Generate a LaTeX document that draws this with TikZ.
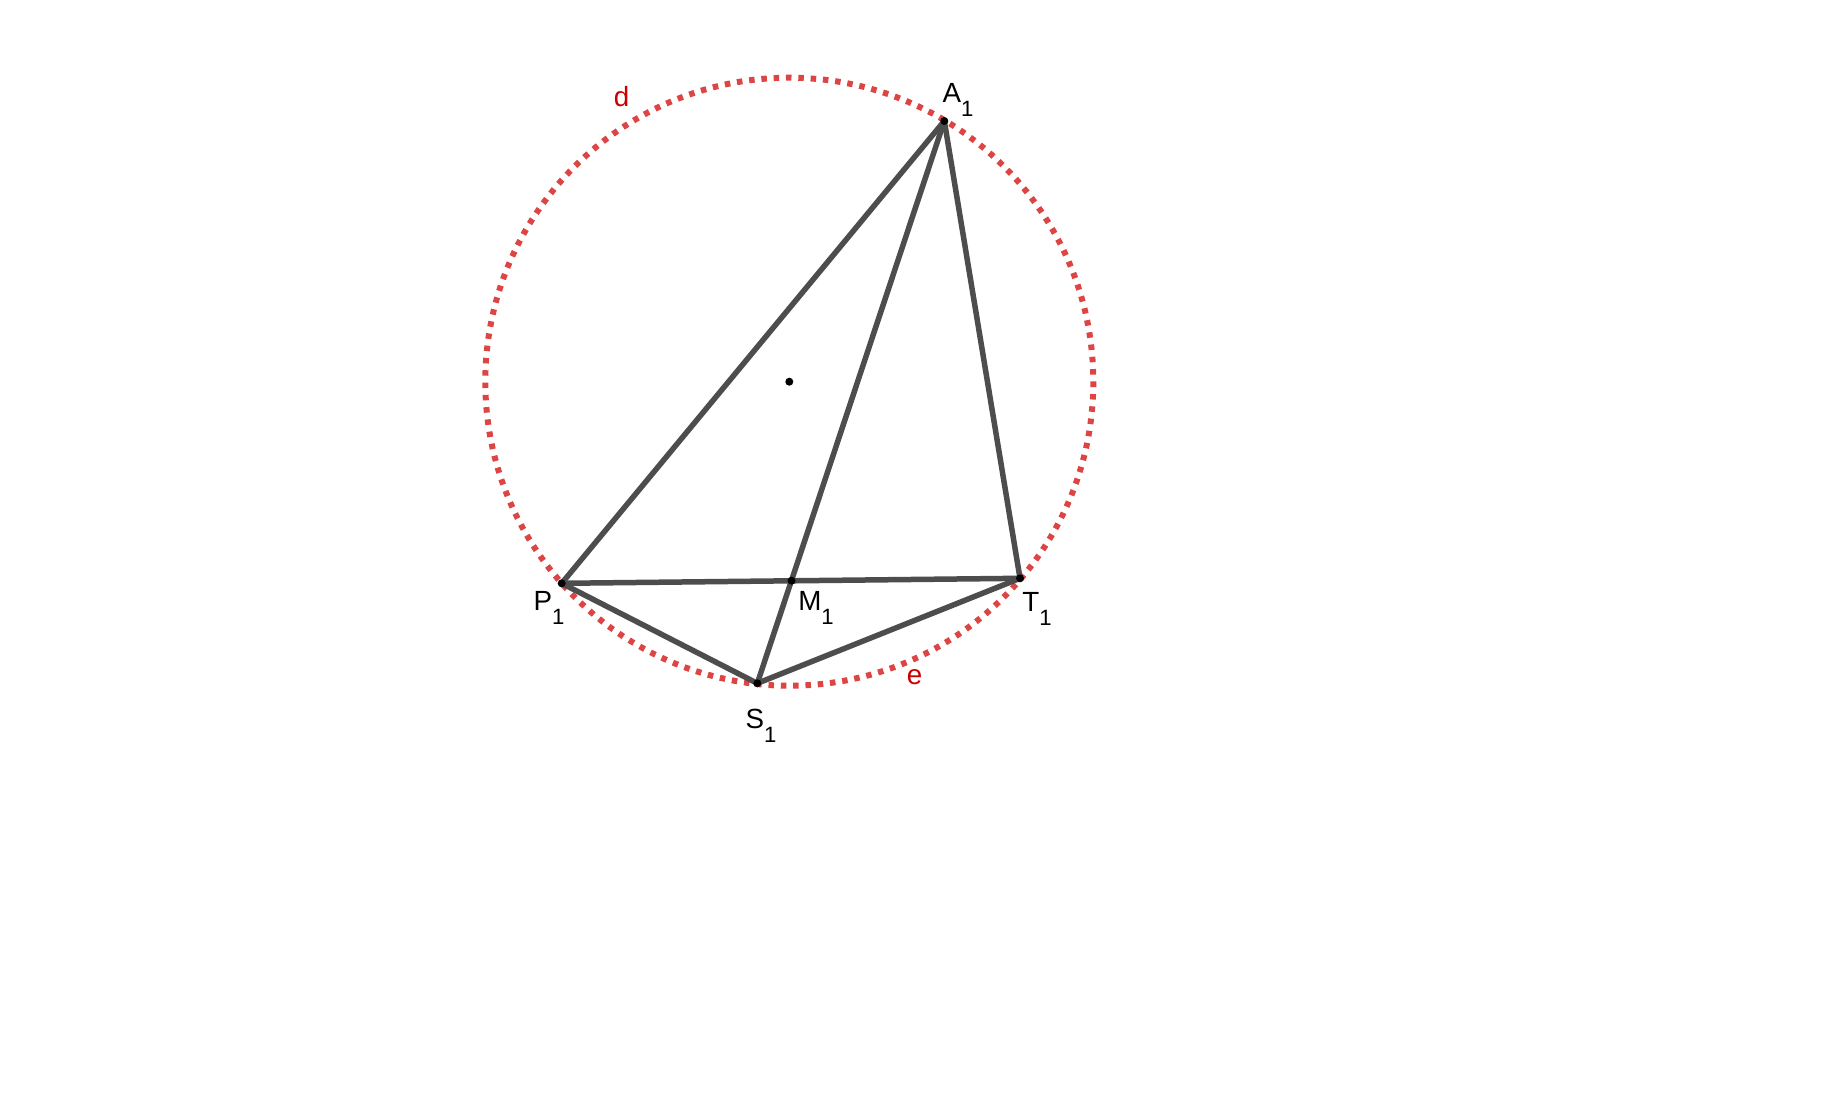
\documentclass[tikz,border=0pt]{standalone}
\usepackage{fontspec}
\setmainfont{Liberation Sans}
\usepackage{tikz}
\usetikzlibrary{arrows,positioning}
\definecolor{segcol}{RGB}{77,77,77}
\definecolor{circcol}{RGB}{221,68,68}
\definecolor{namecol}{RGB}{204,0,0}
\tikzstyle{seg}=[draw=segcol, line width=0.11cm, line cap=round, line join=round]
\tikzstyle{circ}=[draw=circcol, line width=0.12cm, dash pattern=on 0.11cm off 0.1365cm]
\tikzstyle{pt}=[circle, fill=black, inner sep=0pt, minimum size=0.16cm]
\tikzstyle{ptname}=[inner sep=0pt, anchor=center, font=\fontsize{15.8}{17}\selectfont]
\tikzstyle{cname}=[inner sep=0pt, anchor=center, text=namecol, font=\fontsize{15.8}{17}\selectfont]
\newcommand{\ptlabel}[1]{#1\raisebox{-7.8pt}{\fontsize{12.6}{13}\selectfont 1}}
\begin{document}
\begin{tikzpicture}[x=0.02cm,y=-0.02cm]
		    \useasboundingbox (0,0) rectangle (1825,1096);
		    \coordinate (O) at (789.3,381.7);
		    \draw[circ] (O) circle (304);
		    \coordinate (A1) at (944.3,121);
		    \coordinate (P1) at (561.7,583.3);
		    \coordinate (T1) at (1020,578.3);
		    \coordinate (S1) at (757.3,683.3);
		    \coordinate (M1) at (791.5,580.7);
		    \path[seg]
		    (P1) edge (A1)
		    (A1) edge (T1)
		    (P1) edge (T1)
		    (P1) edge (S1)
		    (S1) edge (T1)
		    (A1) edge (S1);
		    \node[pt] (o) at (O) {};
		    \node[pt] (a) at (A1) {};
		    \node[pt] (p) at (P1) {};
		    \node[pt] (t) at (T1) {};
		    \node[pt] (s) at (S1) {};
		    \node[pt] (m) at (M1) {};
		    \node[ptname] (la) at (958,100) {\ptlabel{A}};
		    \node[ptname] (lp) at (549,608) {\ptlabel{P}};
		    \node[ptname] (lm) at (816,608) {\ptlabel{M}};
		    \node[ptname] (ls) at (761,726) {\ptlabel{S}};
		    \node[ptname] (lt) at (1037,609) {\ptlabel{T}};
		    \node[cname] (ld) at (621.5,97) {d};
		    \node[cname] (le) at (914.5,677) {e};
\end{tikzpicture}
\end{document}
